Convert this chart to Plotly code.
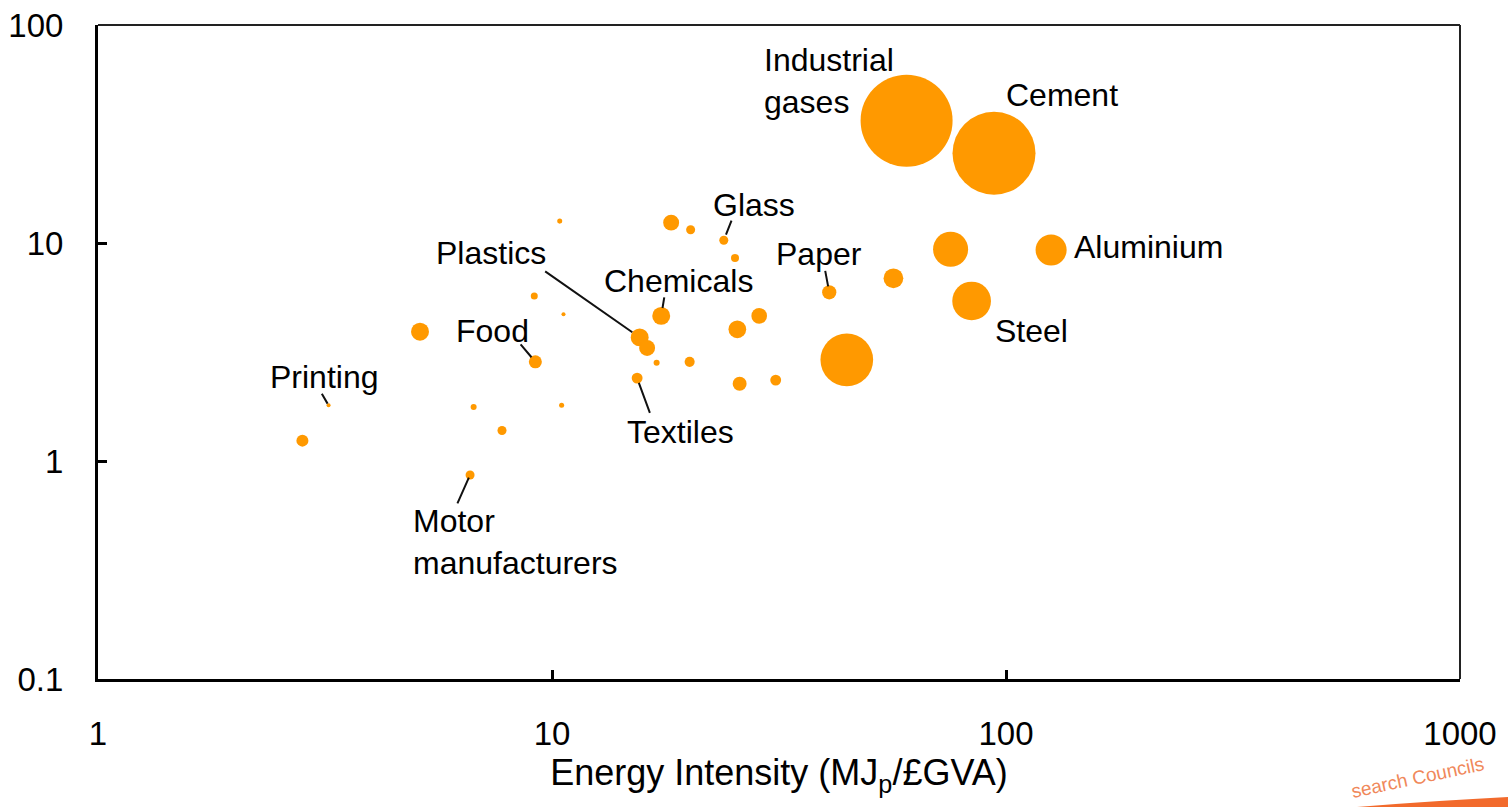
import math
import plotly.graph_objects as go

# Sector data: energy intensity (x), y-axis metric, bubble size value
sector = [
    "Industrial gases", "Cement", "Aluminium", "", "Steel", "", "Paper", "", "",
    "", "", "Glass", "", "Chemicals", "Plastics", "", "", "", "", "Textiles",
    "", "", "", "", "", "", "Food", "Printing", "", "", "", "", "Motor manufacturers",
]
energy_intensity = [
    60.4, 94.1, 125.7, 75.5, 84.0, 56.5, 40.8, 44.6, 28.6,
    18.3, 20.2, 23.9, 25.3, 17.4, 15.6, 16.2, 17.0, 20.1, 25.6, 15.4,
    25.9, 31.1, 10.4, 9.14, 10.6, 5.12, 9.19, 3.22, 2.82, 6.72, 7.76, 10.5, 6.60,
]
y_metric = [
    36.4, 25.8, 9.29, 9.36, 5.42, 6.89, 5.94, 2.91, 4.63,
    12.4, 11.5, 10.3, 8.53, 4.63, 3.69, 3.30, 2.82, 2.85, 4.02, 2.40,
    2.26, 2.35, 12.6, 5.71, 4.71, 3.92, 2.85, 1.80, 1.24, 1.77, 1.38, 1.80, 0.863,
]
bubble_value = [
    100, 81.4, 11.4, 14.5, 17.7, 4.6, 2.4, 32.8, 2.9,
    3.0, 0.96, 0.96, 0.76, 3.8, 3.8, 3.0, 0.43, 1.2, 3.7, 1.4,
    2.3, 1.4, 0.3, 0.58, 0.19, 3.8, 2.0, 0.19, 1.7, 0.43, 0.96, 0.3, 0.96,
]

x_tick_vals = [1, 10, 100, 1000]
x_tick_text = ["1", "10", "100", "1000"]
y_tick_vals = [0.1, 1, 10, 100]
y_tick_text = ["0.1", "1", "10", "100"]

ORANGE = "#FF9900"
FONT = "Liberation Sans, Arial, sans-serif"
MAX_DIAMETER = 92

fig = go.Figure()
fig.add_trace(go.Scatter(
    x=energy_intensity,
    y=y_metric,
    mode="markers",
    marker=dict(
        size=bubble_value,
        sizemode="area",
        sizeref=2 * max(bubble_value) / MAX_DIAMETER ** 2,
        color=ORANGE,
        line=dict(width=0),
        opacity=1,
    ),
    hovertext=sector,
    showlegend=False,
))

# Label placement: pixel offset of text centre from the bubble, anchor,
# and optional leader line (far end offset, standoff from bubble centre)
label_style = {
    "Industrial gases": dict(text="Industrial<br>gases", dx=-145, dy=-40, anchor="left"),
    "Cement": dict(text="Cement", dx=10, dy=-58, anchor="left"),
    "Aluminium": dict(text="Aluminium", dx=21, dy=-3, anchor="left"),
    "Steel": dict(text="Steel", dx=21, dy=30, anchor="left"),
    "Paper": dict(text="Paper", dx=-10, dy=-38, anchor="center", lead=(-4.3, -23, 6)),
    "Glass": dict(text="Glass", dx=30, dy=-35, anchor="center", lead=(8.3, -21, 6)),
    "Chemicals": dict(text="Chemicals", dx=17, dy=-35, anchor="center", lead=(3.3, -20, 8)),
    "Plastics": dict(text="Plastics", dx=-149, dy=-84, anchor="center", lead=(-96, -67, 9)),
    "Food": dict(text="Food", dx=-43, dy=-31, anchor="center", lead=(-16, -19, 6)),
    "Printing": dict(text="Printing", dx=-4, dy=-28, anchor="center", lead=(-7.6, -13, 2)),
    "Textiles": dict(text="Textiles", dx=43, dy=54, anchor="center", lead=(13.3, 36.3, 5)),
    "Motor manufacturers": dict(text="Motor<br>manufacturers", dx=-59, dy=67, anchor="left",
                                lead=(-13.3, 30, 3)),
}

for name, xv, yv in zip(sector, energy_intensity, y_metric):
    if not name:
        continue
    st = label_style[name]
    lx, ly = math.log10(xv), math.log10(yv)
    fig.add_annotation(
        x=lx, y=ly, xref="x", yref="y",
        text=st["text"], showarrow=False,
        xanchor=st["anchor"], yanchor="middle", align="left",
        xshift=st["dx"], yshift=-st["dy"],
        font=dict(family=FONT, size=32, color="black"),
    )
    if "lead" in st:
        ax, ay, stand = st["lead"]
        fig.add_annotation(
            x=lx, y=ly, xref="x", yref="y",
            text="", showarrow=True, arrowhead=0, arrowwidth=2,
            arrowcolor="#111111", ax=ax, ay=ay, standoff=stand,
        )

# Top and right border of the plot frame
fig.add_shape(type="line", xref="paper", yref="paper", x0=0, x1=1, y0=1, y1=1,
              line=dict(color="#222222", width=2))
fig.add_shape(type="line", xref="paper", yref="paper", x0=1, x1=1, y0=0, y1=1,
              line=dict(color="#222222", width=2))

# Corner logo fragment
fig.add_shape(type="path", xref="paper", yref="paper",
              path="M 0.905,-0.199 Q 0.98,-0.186 1.04,-0.180 L 1.04,-0.2 Z",
              fillcolor="#F26A2C", line=dict(width=0), layer="above")
fig.add_annotation(
    x=0.917, y=-0.150, xref="paper", yref="paper", xanchor="left", yanchor="middle",
    text="search Councils", showarrow=False, textangle=-12,
    font=dict(family=FONT, size=19, color="#F0885A"),
)

fig.update_layout(
    width=1508, height=807,
    margin=dict(l=98, r=48, t=25, b=128, autoexpand=False),
    paper_bgcolor="white", plot_bgcolor="white",
    font=dict(family=FONT, color="black"),
    xaxis=dict(
        type="log", range=[0, 3],
        tickvals=x_tick_vals, ticktext=x_tick_text,
        ticks="inside", ticklen=9, tickwidth=3, tickcolor="black",
        showline=True, linewidth=3, linecolor="black",
        showgrid=False, zeroline=False,
        tickfont=dict(size=33, family=FONT),
        ticklabelstandoff=23,
        title=dict(text="Energy Intensity (MJ<sub>p</sub>/£GVA)",
                   font=dict(size=36, family=FONT), standoff=10),
    ),
    yaxis=dict(
        type="log", range=[-1, 2],
        tickvals=y_tick_vals, ticktext=y_tick_text,
        ticks="inside", ticklen=9, tickwidth=3, tickcolor="black",
        showline=True, linewidth=3, linecolor="black",
        showgrid=False, zeroline=False,
        tickfont=dict(size=33, family=FONT),
        ticklabelstandoff=25,
    ),
)

fig.write_html("out.html")
